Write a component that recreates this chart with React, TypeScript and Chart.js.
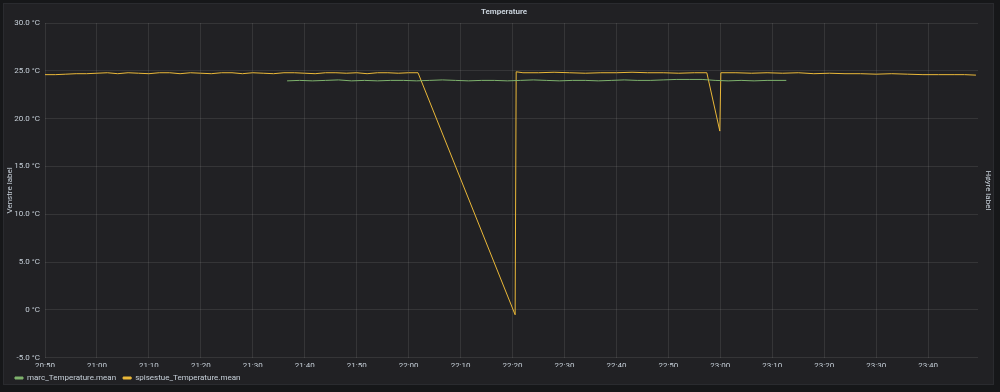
import React, { useEffect, useRef } from 'react';
import { Chart, registerables } from 'chart.js';

Chart.register(...registerables);

// Minutes after 20:50
const xTickLabels = ['20:50', '21:00', '21:10', '21:20', '21:30', '21:40', '21:50', '22:00', '22:10', '22:20', '22:30', '22:40', '22:50', '23:00', '23:10', '23:20', '23:30', '23:40'];
const yTickLabels = ['-5.0 °C', '0 °C', '5.0 °C', '10.0 °C', '15.0 °C', '20.0 °C', '25.0 °C', '30.0 °C'];
const xMaxMinutes = 179.6;

const spisestueMinutes = [
  0, 2, 4, 6, 8, 10, 12, 14, 16, 18, 20, 22, 24, 26, 28, 30, 32, 34, 36, 38, 40, 42, 44, 46, 48, 50,
  52, 54, 56, 58, 60, 62, 64, 66, 68, 70, 71.8, 90.5, 90.7, 92, 95, 98, 101, 104, 107, 110, 113, 116,
  119, 122, 125, 127.4, 129.9, 130.1, 133, 136, 139, 142, 145, 148, 151, 154, 157, 160, 163, 166, 169,
  172, 175, 177, 179.2,
];
const spisestueValues = [
  24.6, 24.6, 24.65, 24.7, 24.7, 24.75, 24.8, 24.7, 24.8, 24.75, 24.7, 24.8, 24.8, 24.7, 24.8, 24.75, 24.7,
  24.8, 24.8, 24.7, 24.8, 24.75, 24.7, 24.8, 24.8, 24.75, 24.7, 24.8, 24.8, 24.75, 24.8, 24.7, 24.8, 24.8,
  24.75, 24.8, 24.8, -0.5, 24.9, 24.8, 24.8, 24.85, 24.8, 24.75, 24.8, 24.8, 24.85, 24.8, 24.8, 24.75, 24.8,
  24.8, 18.7, 24.8, 24.8, 24.75, 24.8, 24.75, 24.8, 24.7, 24.75, 24.7, 24.7, 24.65, 24.7, 24.65, 24.6,
  24.6, 24.6, 24.6, 24.55,
];

const marcMinutes = [
  46.6, 49, 51.5, 54, 56.5, 59, 61.5, 64, 66.5, 69, 71.5, 74, 76.5, 79, 81.5, 84, 86.5, 89, 91.5, 94,
  96.5, 99, 101.5, 104, 106.5, 109, 111.5, 114, 116.5, 119, 121.5, 124, 126.5, 129, 131.5, 134, 136.5,
  139, 142.7,
];
const marcValues = [
  23.95, 24.0, 23.95, 24.0, 24.05, 23.95, 24.0, 23.95, 24.0, 24.0, 23.95, 24.0, 24.05, 24.0, 23.95, 24.0,
  24.0, 23.95, 24.0, 24.05, 24.0, 23.95, 24.0, 24.0, 23.95, 24.0, 24.05, 24.0, 24.0, 24.05, 24.1, 24.1,
  24.1, 24.0, 23.95, 24.0, 23.95, 24.0, 24.0,
];

const textColor = '#c7d0d9';
const gridColor = 'rgba(255,255,255,0.09)';
const marcColor = '#7EB26D';
const spisestueColor = '#EAB839';

export default function App() {
  const canvasRef = useRef<HTMLCanvasElement>(null);

  useEffect(() => {
    if (!canvasRef.current) return;
    Chart.defaults.font.family = 'Roboto';
    const chart = new Chart(canvasRef.current, {
      type: 'line',
      data: {
        datasets: [
          {
            label: 'marc_Temperature.mean',
            data: marcMinutes.map((m, i) => ({ x: m, y: marcValues[i] })),
            borderColor: marcColor,
            backgroundColor: marcColor,
            borderWidth: 1,
            pointRadius: 0,
            tension: 0,
          },
          {
            label: 'spisestue_Temperature.mean',
            data: spisestueMinutes.map((m, i) => ({ x: m, y: spisestueValues[i] })),
            borderColor: spisestueColor,
            backgroundColor: spisestueColor,
            borderWidth: 1,
            pointRadius: 0,
            tension: 0,
          },
        ],
      },
      options: {
        animation: false,
        responsive: false,
        layout: { padding: { left: 8, right: 0, top: 0, bottom: 0 } },
        scales: {
          x: {
            type: 'linear',
            min: 0,
            max: xMaxMinutes,
            afterBuildTicks: (s: any) => {
              s.ticks = s.ticks.filter((t: any) => Math.abs(t.value % 10) < 1e-6);
            },
            afterFit: (s: any) => {
              s.height = 9.2;
            },
            ticks: {
              stepSize: 10,
              autoSkip: false,
              maxRotation: 0,
              padding: 3,
              color: textColor,
              font: { size: 8 },
              callback: (v: any) => xTickLabels[Math.round(Number(v) / 10)] ?? '',
            },
            grid: { color: gridColor, drawTicks: false },
            border: { display: false },
          },
          y: {
            min: -5,
            max: 30,
            afterFit: (s: any) => {
              s.width = 37;
            },
            ticks: {
              stepSize: 5,
              padding: 5,
              color: textColor,
              font: { size: 8 },
              callback: (v: any) => yTickLabels[Math.round((Number(v) + 5) / 5)] ?? '',
            },
            title: {
              display: true,
              text: 'Venstre label',
              color: textColor,
              font: { size: 8 },
              padding: { top: -2.8, bottom: 0 },
            },
            grid: { color: gridColor, drawTicks: false },
            border: { display: false },
          },
          y1: {
            position: 'right',
            min: -5,
            max: 30,
            afterFit: (s: any) => {
              s.width = 22;
            },
            ticks: { display: false },
            title: {
              display: true,
              text: 'Høyre label',
              color: textColor,
              font: { size: 8 },
              padding: { top: 7.2, bottom: 0 },
            },
            grid: { display: false, drawTicks: false },
            border: { display: false },
          },
        },
        plugins: {
          title: {
            display: true,
            text: 'Temperature',
            color: textColor,
            font: { size: 8, weight: 'bold' },
            padding: { top: 7.2, bottom: 6.2 },
          },
          legend: {
            position: 'bottom',
            align: 'start',
            labels: {
              color: textColor,
              font: { size: 8 },
              boxWidth: 8,
              boxHeight: 2,
              padding: 7,
            },
          },
          tooltip: { enabled: false },
        },
      },
    } as any);
    return () => chart.destroy();
  }, []);

  return (
    <div style={{ position: 'fixed', left: 0, top: 0, width: 1000, height: 392, background: '#161719' }}>
      <div
        style={{
          position: 'absolute',
          left: 3,
          top: 3,
          width: 991,
          height: 382,
          boxSizing: 'border-box',
          background: '#212124',
          border: '1px solid #2a2b2f',
        }}
      />
      <canvas ref={canvasRef} width={1000} height={392} style={{ position: 'absolute', left: 0, top: 0 }} />
    </div>
  );
}
